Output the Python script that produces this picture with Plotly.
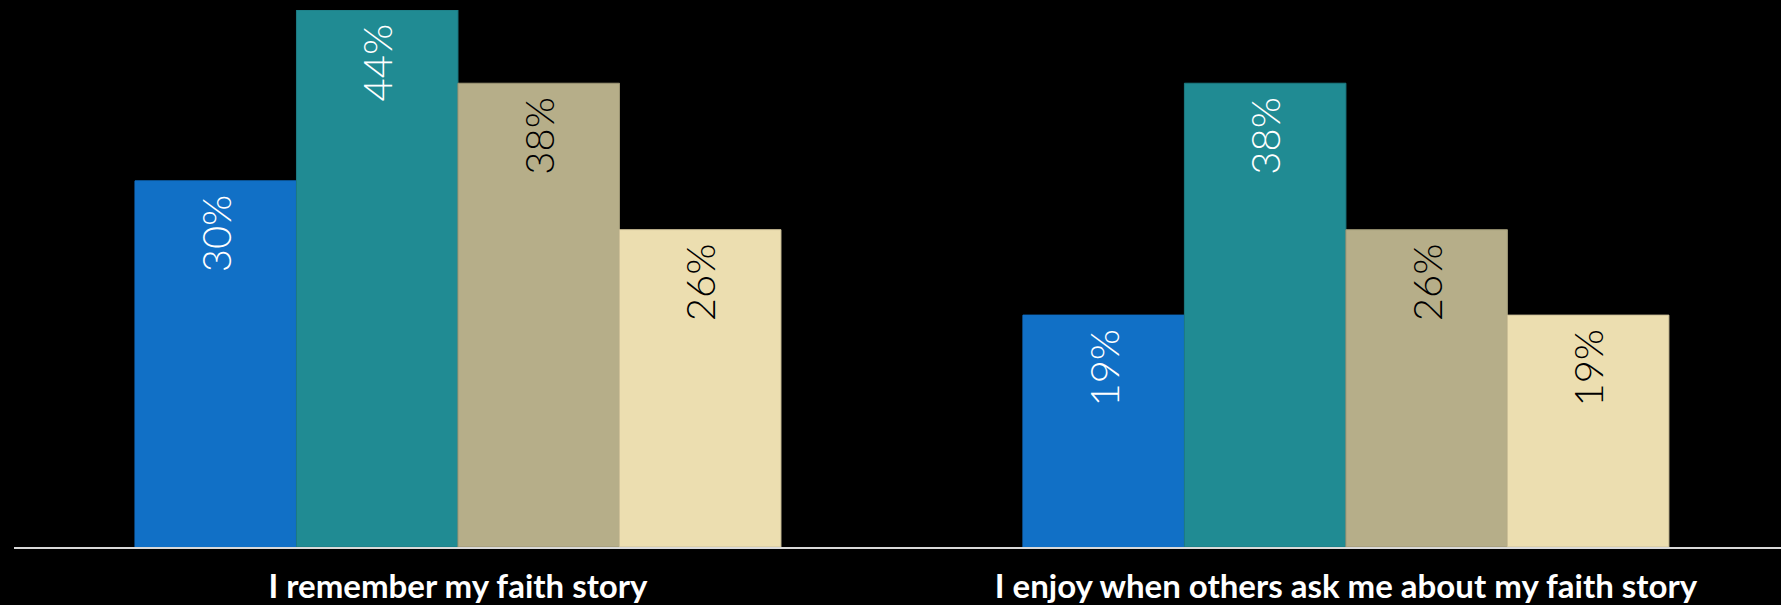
import plotly.graph_objects as go

categories = ["I remember my faith story", "I enjoy when others ask me about my faith story"]
series_names = ["Series 1", "Series 2", "Series 3", "Series 4"]
series_1 = [0.30, 0.19]
series_2 = [0.44, 0.38]
series_3 = [0.38, 0.26]
series_4 = [0.26, 0.19]

series_values = [series_1, series_2, series_3, series_4]
colors = ["#1170C6", "#208B93", "#B6AE89", "#ECDEB0"]
edge_colors = ["#1170C6", "#1d7a82", "#9e9776", "#cfc29a"]
text_colors = ["white", "white", "black", "black"]

fig = go.Figure()
for name, vals, c, ec, tc in zip(series_names, series_values, colors, edge_colors, text_colors):
    fig.add_trace(go.Bar(
        name=name, x=categories, y=vals,
        marker=dict(color=c, line=dict(color=ec, width=1)),
        texttemplate="%{y:.0%}\u00a0",
        textposition="inside", insidetextanchor="end",
        textangle=-90,
        textfont=dict(family="Century Gothic, Lato, sans-serif", size=40, color=tc, weight=300),
        constraintext="none",
        hoverinfo="skip",
    ))

fig.update_layout(
    width=1781, height=605,
    margin=dict(l=14, r=0, t=10, b=58),
    paper_bgcolor="black", plot_bgcolor="black",
    barmode="group", bargap=0.2725, bargroupgap=0,
    showlegend=False,
    xaxis=dict(
        showline=True, linecolor="#d9d9d9", linewidth=2,
        ticks="", showgrid=False, zeroline=False,
        range=[-0.5, 1.49], automargin=False,
        tickfont=dict(family="Century Gothic, Lato, sans-serif", size=33, color="white", weight="bold"),
        ticklabelstandoff=9,
    ),
    yaxis=dict(visible=False, range=[0, 0.44], showgrid=False, zeroline=False, automargin=False),
)

fig.write_html("out.html", config={"displayModeBar": False},
               post_script="document.body.style.margin='0';document.body.style.background='black';")
